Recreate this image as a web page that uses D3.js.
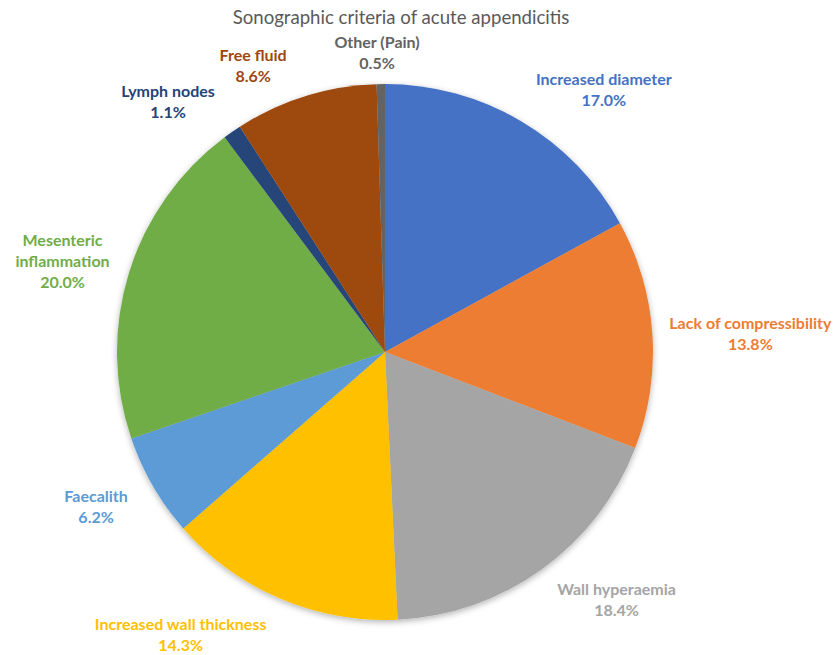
<!DOCTYPE html>
<html>
<head>
<meta charset="utf-8">
<script src="https://cdn.jsdelivr.net/npm/d3@7"></script>
<style>
  body { margin: 0; background: #fff; }
  text { font-family: Lato, "Open Sans", sans-serif; }
</style>
</head>
<body>
<div id="chart"></div>
<script>
  // chart data
  var categories = ['Increased diameter', 'Lack of compressibility', 'Wall hyperaemia',
    'Increased wall thickness', 'Faecalith', 'Mesenteric inflammation',
    'Lymph nodes', 'Free fluid', 'Other (Pain)'];
  var values = [17.0, 13.8, 18.4, 14.3, 6.2, 20.0, 1.1, 8.6, 0.5];
  var labelLines = [['Increased diameter'], ['Lack of compressibility'], ['Wall hyperaemia'],
    ['Increased wall thickness'], ['Faecalith'], ['Mesenteric', 'inflammation'],
    ['Lymph nodes'], ['Free fluid'], ['Other (Pain)']];
  var colors = ['#4472C4', '#ED7D31', '#A5A5A5', '#FFC000', '#5B9BD5', '#70AD47',
    '#264478', '#9E480E', '#636363'];

  // label placement (angle from 12 o'clock in degrees, distance from centre)
  var labelPolar = [[39.5, 344], [86.7, 366], [136.6, 337], [216.2, 346], [242.4, 326],
    [286.3, 336], [319.5, 334], [335.5, 318], [358.5, 303]];

  var w = 839, h = 655;
  var cx = 385, cy = 352, radius = 268;

  var svg = d3.select('#chart')
    .append('svg')
    .attr('width', w)
    .attr('height', h);

  var defs = svg.append('defs');
  var filter = defs.append('filter')
    .attr('id', 'shadow')
    .attr('x', '-10%').attr('y', '-10%')
    .attr('width', '120%').attr('height', '120%');
  filter.append('feDropShadow')
    .attr('dx', 0).attr('dy', 2)
    .attr('stdDeviation', 3)
    .attr('flood-color', '#000')
    .attr('flood-opacity', 0.3);

  svg.append('text')
    .attr('x', 401)
    .attr('y', 24)
    .attr('text-anchor', 'middle')
    .attr('font-size', 18.6)
    .attr('fill', '#595959')
    .text('Sonographic criteria of acute appendicitis');

  var pie = d3.pie().sort(null).value(function(d) { return d; });
  var arc = d3.arc().innerRadius(0).outerRadius(radius);
  var arcs = pie(values);

  var g = svg.append('g')
    .attr('transform', 'translate(' + cx + ',' + cy + ')');

  var slices = g.append('g').attr('filter', 'url(#shadow)');
  slices.selectAll('path')
    .data(arcs)
    .enter()
    .append('path')
    .attr('d', arc)
    .attr('fill', function(d, i) { return colors[i]; });

  var lineH = 21;
  arcs.forEach(function(d, i) {
    var a = labelPolar[i][0] * Math.PI / 180, r = labelPolar[i][1];
    var x = r * Math.sin(a), y = -r * Math.cos(a);
    var lines = labelLines[i].concat([values[i].toFixed(1) + '%']);
    var t = g.append('text')
      .attr('text-anchor', 'middle')
      .attr('font-size', 16)
      .attr('font-weight', 'bold')
      .attr('fill', colors[i]);
    var y0 = y - (lines.length - 1) * lineH / 2 + 9;
    lines.forEach(function(s, k) {
      t.append('tspan')
        .attr('x', x)
        .attr('y', y0 + k * lineH)
        .text(s);
    });
  });
</script>
</body>
</html>
